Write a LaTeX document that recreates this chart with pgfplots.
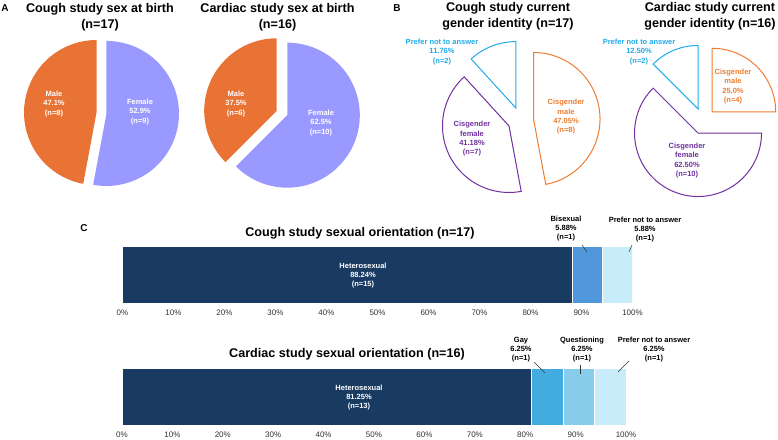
\documentclass[border=0pt]{standalone}
\usepackage{pgfplots}
\pgfplotsset{compat=1.18}
\usepackage{fontspec}
\setmainfont{Liberation Sans}
\definecolor{aorange}{RGB}{233,115,52}
\definecolor{alav}{RGB}{153,153,255}
\definecolor{bcyan}{RGB}{30,170,235}
\definecolor{borange}{RGB}{237,125,49}
\definecolor{bpurple}{RGB}{112,48,160}
\definecolor{navy}{RGB}{26,59,97}
\definecolor{bisex}{RGB}{80,150,218}
\definecolor{gay}{RGB}{66,172,225}
\definecolor{quest}{RGB}{135,205,235}
\definecolor{pna}{RGB}{200,236,250}

% #1 style, #2 start angle, #3 end angle, #4 explode (in radius units)
\newcommand{\pieslice}[4]{%
  \pgfmathsetmacro\midang{(#2+#3)/2}%
  \pgfmathsetmacro\ox{#4*cos(\midang)}%
  \pgfmathsetmacro\oy{#4*sin(\midang)}%
  \edef\doslice{\noexpand\addplot[#1, domain=#2:#3, samples=120, variable=\noexpand\t]
    ({\ox+cos(\noexpand\t)},{\oy+sin(\noexpand\t)}) -- (axis cs:\ox,\oy) -- cycle;}%
  \doslice}

\pgfplotsset{pieaxis/.style={hide axis, scale only axis, clip=false, anchor=center,
  xmin=-1.3,xmax=1.3,ymin=-1.3,ymax=1.3},
  baraxis/.style={scale only axis, anchor=south west, xbar stacked, bar width=57pt,
  xmin=0, xmax=100, ymin=0, ymax=1, axis x line*=bottom, axis y line=none,
  axis line style={draw=none}, major tick length=0pt, ytick=\empty,
  xtick={0,10,...,100},
  xticklabels={0\%,10\%,20\%,30\%,40\%,50\%,60\%,70\%,80\%,90\%,100\%},
  xticklabel style={font=\fontsize{8}{9}\selectfont, text=black!80, inner sep=0pt, anchor=north, yshift=-7pt}}}

\newcommand{\ttl}{\fontsize{12.6}{15.5}\selectfont\bfseries}
\newcommand{\lbl}{\fontsize{7.5}{9.3}\selectfont\bfseries}
\newcommand{\clbl}{\fontsize{7.5}{9}\selectfont\bfseries}

\begin{document}
\begin{tikzpicture}[x=1pt,y=1pt]
\path[use as bounding box] (0,0) rectangle (778,439);

% ---- A: sex at birth (cough: male 8, female 9; cardiac: male 6, female 10)
\begin{axis}[pieaxis, at={(101.5pt,326pt)}, width=188.5pt, height=188.5pt]
\pgfmathsetmacro\aF{90-360*9/17}
\pieslice{fill=alav,draw=none}{\aF}{90}{0.069}
\pieslice{fill=aorange,draw=none}{-270}{\aF}{0.069}
\end{axis}
\begin{axis}[pieaxis, at={(282pt,326pt)}, width=188.5pt, height=188.5pt]
\pgfmathsetmacro\aF{90-360*10/16}
\pieslice{fill=alav,draw=none}{\aF}{90}{0.079}
\pieslice{fill=aorange,draw=none}{-270}{\aF}{0.079}
\end{axis}

% ---- B: gender identity (cough: male 8, female 7, PNA 2; cardiac: male 4, female 10, PNA 2)
\begin{axis}[pieaxis, at={(520.6pt,318.8pt)}, width=172.9pt, height=172.9pt]
\pgfmathsetmacro\aM{90-360*8/17}
\pgfmathsetmacro\aW{\aM-360*7/17}
\pieslice{draw=borange,line width=1pt,fill=none}{\aM}{90}{0.195}
\pieslice{draw=bpurple,line width=1pt,fill=none}{\aW}{\aM}{0.195}
\pieslice{draw=bcyan,line width=1pt,fill=none}{-270}{\aW}{0.195}
\end{axis}
\begin{axis}[pieaxis, at={(703pt,318pt)}, width=165.1pt, height=165.1pt]
\pgfmathsetmacro\aM{90-360*4/16}
\pgfmathsetmacro\aW{\aM-360*10/16}
\pieslice{draw=borange,line width=1pt,fill=none}{\aM}{90}{0.205}
\pieslice{draw=bpurple,line width=1pt,fill=none}{\aW}{\aM}{0.205}
\pieslice{draw=bcyan,line width=1pt,fill=none}{-270}{\aW}{0.205}
\end{axis}

% ---- C: sexual orientation bars
\begin{axis}[baraxis, at={(122.5pt,136pt)}, width=510pt, height=57pt]
\addplot[fill=navy, draw=white, line width=0.6pt] coordinates {(88.24,0.5)};
\addplot[fill=bisex, draw=white, line width=0.6pt] coordinates {(5.88,0.5)};
\addplot[fill=pna, draw=white, line width=0.6pt] coordinates {(5.88,0.5)};
\end{axis}
\begin{axis}[baraxis, at={(122pt,14pt)}, width=504pt, height=57pt]
\addplot[fill=navy, draw=white, line width=0.6pt] coordinates {(81.25,0.5)};
\addplot[fill=gay, draw=white, line width=0.6pt] coordinates {(6.25,0.5)};
\addplot[fill=quest, draw=white, line width=0.6pt] coordinates {(6.25,0.5)};
\addplot[fill=pna, draw=white, line width=0.6pt] coordinates {(6.25,0.5)};
\end{axis}

% ---- titles and panel letters
\node[font=\fontsize{10}{12}\selectfont\bfseries] at (5,431) {A};
\node[font=\fontsize{10}{12}\selectfont\bfseries] at (397,431) {B};
\node[font=\fontsize{10}{12}\selectfont\bfseries] at (84,211) {C};
\node[font=\ttl, align=center] at (100,422) {Cough study sex at birth\\(n=17)};
\node[font=\ttl, align=center] at (277.5,422) {Cardiac study sex at birth\\(n=16)};
\node[font=\ttl, align=center] at (508,422.5) {Cough study current\\gender identity (n=17)};
\node[font=\ttl, align=center] at (710,422.5) {Cardiac study current\\gender identity (n=16)};
\node[font=\ttl] at (360,206) {Cough study sexual orientation (n=17)};
\node[font=\ttl] at (347,85) {Cardiac study sexual orientation (n=16)};

% ---- pie labels A
\node[font=\lbl, align=center, text=white] at (54,335) {Male\\47.1\%\\(n=8)};
\node[font=\lbl, align=center, text=white] at (140,327) {Female\\52.9\%\\(n=9)};
\node[font=\lbl, align=center, text=white] at (236,335) {Male\\37.5\%\\(n=6)};
\node[font=\lbl, align=center, text=white] at (321,316) {Female\\62.5\%\\(n=10)};

% ---- pie labels B
\node[font=\lbl, align=center, text=bcyan] at (442,387) {Prefer not to answer\\11.76\%\\(n=2)};
\node[font=\lbl, align=center, text=borange] at (566,322) {Cisgender\\male\\47.05\%\\(n=8)};
\node[font=\lbl, align=center, text=bpurple] at (472,300) {Cisgender\\female\\41.18\%\\(n=7)};
\node[font=\lbl, align=center, text=bcyan] at (639,387) {Prefer not to answer\\12.50\%\\(n=2)};
\node[font=\lbl, align=center, text=borange] at (733,352.5) {Cisgender\\male\\25.0\%\\(n=4)};
\node[font=\lbl, align=center, text=bpurple] at (687,278.5) {Cisgender\\female\\62.50\%\\(n=10)};

% ---- bar labels C
\node[font=\clbl, align=center, text=white] at (363,163) {Heterosexual\\88.24\%\\(n=15)};
\node[font=\clbl, align=center, text=white] at (359,41) {Heterosexual\\81.25\%\\(n=13)};
\node[font=\clbl, align=center] at (566,210) {Bisexual\\5.88\%\\(n=1)};
\node[font=\clbl, align=center] at (645,209) {Prefer not to answer\\5.88\%\\(n=1)};
\node[font=\clbl, align=center] at (521,89) {Gay\\6.25\%\\(n=1)};
\node[font=\clbl, align=center] at (582,89) {Questioning\\6.25\%\\(n=1)};
\node[font=\clbl, align=center] at (654,89) {Prefer not to answer\\6.25\%\\(n=1)};
\draw[black!80, line width=0.5pt] (582,194) -- (587,187);
\draw[black!80, line width=0.5pt] (632,194) -- (629,187);
\draw[black!80, line width=0.5pt] (534,77) -- (545,66);
\draw[black!80, line width=0.5pt] (580,74) -- (580,65);
\draw[black!80, line width=0.5pt] (629,78) -- (618,67);
\end{tikzpicture}
\end{document}
